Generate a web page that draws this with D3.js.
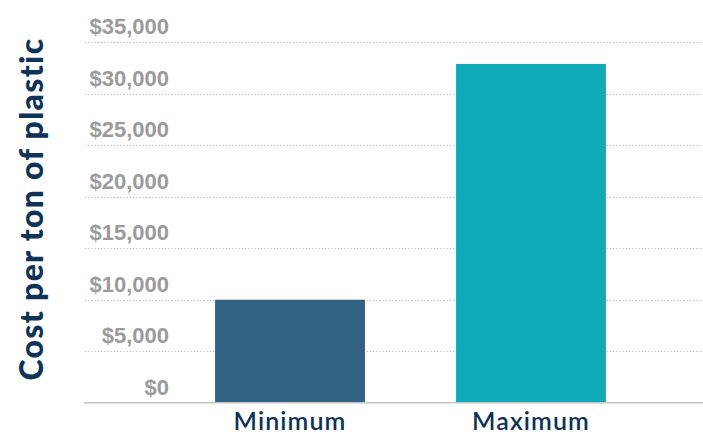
<!DOCTYPE html>
<meta charset="utf-8">
<style>
body { margin: 0; background: #fff; }
.tick-label { font: bold 22px "Liberation Sans", Arial, sans-serif; fill: #9b9b9b; }
.cat-label { font: 600 25px Lato, "Noto Sans", sans-serif; fill: #0f3257; letter-spacing: 1.1px; }
.y-title { font: 900 32px Lato, "Noto Sans", sans-serif; fill: #0f3257; letter-spacing: 1.3px; }
.grid { stroke: #b8b8b8; stroke-width: 1; stroke-dasharray: 1.2 2; }
.baseline { stroke: #c4c4c4; stroke-width: 1.6; }
</style>
<body>
<script src="https://cdn.jsdelivr.net/npm/d3@7"></script>
<script>

var categories = ["Minimum", "Maximum"];
var values = [10000, 32900];
var colors = ["#336183", "#10a9b7"];
var ticks = [0, 5000, 10000, 15000, 20000, 25000, 30000, 35000];

var width = 703,
    height = 434;

var svg = d3.select("body").append("svg")
    .attr("width", width)
    .attr("height", height);

var y = d3.scaleLinear()
    .domain([0, 35000])
    .range([402.7, 42.3]);

var x = d3.scaleBand()
    .domain(categories)
    .range([124, 697])
    .padding(0.378);

// dotted gridlines
svg.selectAll("line.grid")
    .data(ticks.slice(1))
  .enter().append("line")
    .attr("class", "grid")
    .attr("x1", 85)
    .attr("x2", width)
    .attr("y1", function(d) { return Math.round(y(d)) + 0.5; })
    .attr("y2", function(d) { return Math.round(y(d)) + 0.5; });

// tick labels sit above their gridline
svg.selectAll("text.tick-label")
    .data(ticks)
  .enter().append("text")
    .attr("class", "tick-label")
    .attr("x", 169)
    .attr("y", function(d) { return y(d) - 8; })
    .attr("text-anchor", "end")
    .text(function(d) { return "$" + d3.format(",")(d); });

// bars
svg.selectAll("rect.bar")
    .data(values)
  .enter().append("rect")
    .attr("class", "bar")
    .attr("x", function(d, i) { return x(categories[i]); })
    .attr("width", x.bandwidth())
    .attr("y", function(d) { return y(d); })
    .attr("height", function(d) { return y(0) - y(d); })
    .attr("fill", function(d, i) { return colors[i]; });

svg.append("line")
    .attr("class", "baseline")
    .attr("x1", 84)
    .attr("x2", width)
    .attr("y1", y(0))
    .attr("y2", y(0));

// category labels
svg.selectAll("text.cat-label")
    .data(categories)
  .enter().append("text")
    .attr("class", "cat-label")
    .attr("x", function(d) { return x(d) + x.bandwidth() / 2; })
    .attr("y", 430)
    .attr("text-anchor", "middle")
    .text(function(d) { return d; });

svg.append("text")
    .attr("class", "y-title")
    .attr("transform", "translate(43,209) rotate(-90)")
    .attr("text-anchor", "middle")
    .text("Cost per ton of plastic");

</script>
</body>
